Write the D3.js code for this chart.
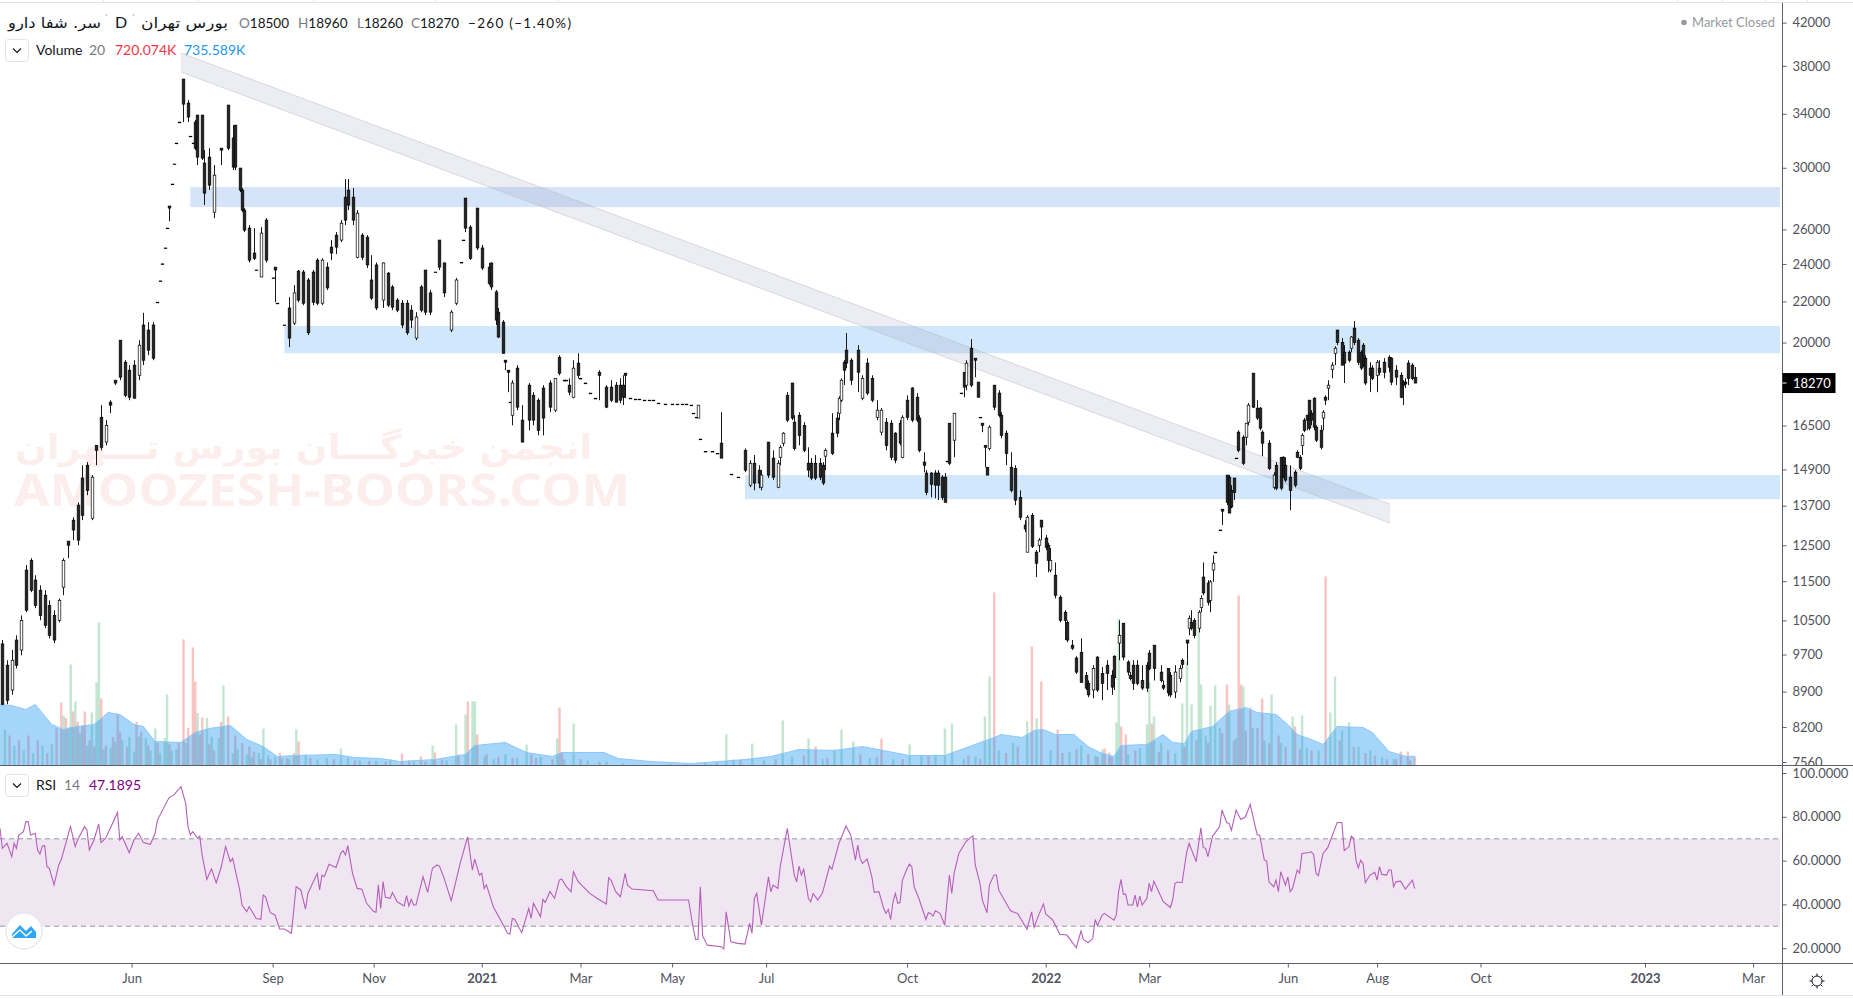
<!DOCTYPE html>
<html><head><meta charset="utf-8">
<script src="https://cdn.jsdelivr.net/npm/d3@7"></script>
<style>html,body{margin:0;padding:0;background:#fff;overflow:hidden}svg{display:block}text{font-family:Lato,"Liberation Sans",sans-serif}</style>
</head><body><svg id="c" width="1853" height="999"></svg>
<script>
const sessions=[1,3,5,7,9,11,13,15,17,19,
21,23,25,27,29,31,33,35,37,39,
41,43,45,47,49,51,53,55,57,59,
61,63,65,67,68,69,70,71,72,73,74,75,76,
78,80,81,82,83,84,86,87,89,91,
94,97,99,100,102,103,104,106,108,109,
111,113,116,117,118,121,123,125,127,129,
131,133,135,137,139,141,143,145,147,148,
150,152,154,156,158,160,163,165,167,169,
171,173,175,177,179,181,183,185,187,189,
192,194,196,197,198,200,203,205,208,209,
211,212,214,215,216,217,218,220,222,225,
227,229,231,234,236,238,240,241,242,244,
246,247,249,251,253,255,258,260,262,264,
265,266,268,270,272,274,276,278,280,283,
286,288,290,292,294,295,296,297,298,300,
303,305,307,311,314,317,319,321,323,324,
327,329,331,332,333,335,337,338,340,342,
344,345,347,349,350,351,354,356,357,358,
359,360,362,365,367,369,371,373,375,377,
379,381,383,384,386,388,390,391,393,394,
396,398,399,401,402,403,404,406,409,410,
411,413,415,416,417,418,419,420,421,423,
425,426,428,430,432,434,436,437,439,441,
442,443,445,446,447,449,451,453,454,456,
458,460,462,463,465,467,469,471,473,474,
476,478,480,481,482,484,486,488,489,491,
494,495,497,498,500,502,503,505,506,507,
508,510,511,512,514,515,516,517,519,520,
522,523,524,525,526,527,529,530,531,533,
535,536,537,540,542,543,545,546,547,549,
551,552,553,554,555,556,557,558,559,560,
562,563,564,565,567,568,569,571,572,574,
575,576,578,579,580,581,583,584,586,587,
589,591,592,594,596,597,598,599,601,602];
const highs=[10090,9630,9860,10200,10680,12000,12190,11720,11450,11320,
11060,10810,11110,12190,12680,13400,13870,15110,15220,14770,
15820,17360,16770,17560,18390,20170,19260,19040,19260,20170,
21490,21030,21030,22020,23130,24060,24960,26130,27500,28930,30300,31800,33380,
36880,35130,32310,31800,33540,33930,33930,31290,31430,30230,
31430,34720,33150,33150,30000,28660,27370,26310,26130,23720,
26190,26740,23290,23880,21970,20890,22280,22910,23720,23720,
23290,23720,24370,24370,24140,25420,25890,26620,29270,29270,
28660,27240,25830,25710,24550,24140,24140,23610,22910,22230,
22130,22130,21870,21520,22910,23720,22650,23610,25420,24140,
21620,23290,24140,25420,28010,26310,27370,25130,24110,24140,
22650,21730,21130,19260,18820,17480,18390,19040,17360,18270,
17890,17640,18180,18390,18470,19480,18390,18390,18470,19260,
19570,18470,18270,17850,17640,18820,18180,18390,18310,18470,
18600,18690,17640,17600,17600,17560,17560,17560,17440,17400,
17400,17400,17400,17400,17360,17040,16880,17360,16050,15600,
15600,15530,17080,14800,14700,15710,15290,15470,15110,14940,
15940,15640,15290,15820,16310,17890,18270,16960,17080,16690,
15750,15360,15470,15360,15220,15710,17040,17080,17720,18470,
19260,20510,19350,19940,18600,19350,18600,17560,17240,16850,
16770,16310,16770,16960,17760,18100,17850,16960,15570,14940,
14870,14940,14940,14770,14840,15250,16650,17040,17850,18730,
19260,20220,19350,18310,16880,16650,15820,15040,16570,18180,
17970,17080,16380,15570,15110,14260,13310,13460,13530,12420,
12770,13310,12860,12630,12480,12070,11190,10810,10560,10090,
9720,10130,9370,9190,9520,9720,9480,9630,9410,9740,
10560,10490,9630,9370,9630,9630,9520,9590,9860,9970,
9520,9190,9450,9370,9520,9520,9670,10090,10680,10810,
10610,10810,11190,12070,11590,11590,12270,12360,13010,13650,
14770,14770,14430,14670,15360,16380,16190,16650,17440,18690,
17560,17280,16380,16010,14870,15220,15390,15430,15390,15110,
14940,15640,15470,16270,16850,16960,17560,17160,17680,16570,
16570,17160,17760,18390,19170,19890,20650,20270,19940,19710,
20360,21080,20270,19710,20040,19480,19170,19040,19260,19260,
19350,19480,19390,19040,18730,18390,18470,19260,19130,18960];
const lows=[8680,8700,8890,9450,9740,10760,11270,10860,10560,10370,
10130,10020,10510,11190,12190,12710,12560,13310,14100,13310,
15110,15640,15820,17040,18180,18390,17680,17560,17640,18390,
19040,19480,19260,22020,23130,24060,24960,26130,26550,28930,30300,31800,33380,
33380,33380,32310,31800,31290,30230,30580,27560,28530,26740,
30230,31290,29880,29880,28400,27110,25890,24140,24270,23720,
23340,24140,23290,22020,21970,20890,19850,20890,22020,21870,
20410,21870,21870,21870,22650,24270,24610,25300,26310,27240,
26310,24370,24270,23830,22130,21620,21730,21770,21620,21520,
20740,20410,20740,20170,21520,21370,21370,23610,23720,22280,
20550,21870,24140,25420,25890,24270,24840,23720,22910,22650,
20890,20270,19570,18820,17890,17480,16570,17160,15940,16380,
16570,16190,16190,17080,17080,18600,18390,18390,17760,17640,
18470,18470,18270,17850,17640,17560,17240,17480,17480,17440,
17360,17640,17640,17600,17600,17560,17560,17560,17440,17400,
17400,17400,17400,17400,17360,17040,16880,16850,16050,15600,
15600,15530,15360,14800,14700,14870,14360,14260,14330,14260,
14670,14600,14330,15110,15780,16690,16770,15640,15820,15570,
14700,14600,14600,14600,14430,14940,15470,16120,16770,17480,
18180,18910,18180,17890,17560,17760,17480,16770,16190,15640,
15290,15180,15820,15360,16770,16690,16690,15570,14870,14100,
14030,14000,13940,13940,13870,15250,15110,15390,17850,17680,
17970,18100,18520,17680,16880,16310,15040,14770,15640,17160,
16880,16080,15110,14190,13780,13310,12950,12360,12480,11670,
12360,12710,12420,11800,11800,11110,10510,10090,10040,9860,
9330,9150,8990,8840,8820,8950,8780,8990,8890,8990,
9630,9630,9300,9190,8990,9090,8990,8950,9410,9190,
9150,8990,8860,8840,8820,9150,9450,9520,10200,10320,
10130,10270,10760,11190,10930,10760,11540,12360,13010,13160,
13780,13530,13680,13940,15360,15570,15110,15820,16570,17240,
16770,16380,15430,14940,14290,14260,14260,14670,14530,13620,
14360,15360,14940,15470,16310,16380,16380,16570,16380,15940,
15670,16380,17360,17560,18470,19040,19940,19040,18270,19170,
19620,19940,19040,18820,18950,18180,17890,18390,17890,18600,
18470,18730,18180,18180,17640,17360,18060,18180,18390,18260];
const opens=[10000,9520,8990,10090,9860,11860,12130,11590,11320,11190,
10930,10680,10560,11400,12680,13310,13780,14670,15110,13370,
15820,16880,15940,17480,18390,20170,19170,18820,19040,18600,
20890,20650,20890,22020,23130,24060,24960,26130,27500,28930,30300,31800,33380,
36870,34880,32310,31800,33380,33930,33930,30370,30790,27110,
31430,34720,32180,33150,30020,28530,27240,26130,24670,23720,
23340,26620,23290,23880,21970,20890,21730,20980,23660,23610,
23180,23610,24270,21970,23880,25010,25710,25420,28070,28530,
28070,24430,25710,25590,23180,24000,22130,23550,22810,22130,
21970,21970,21620,20270,22810,23720,22500,23610,25420,24110,
20650,21970,24140,25420,28010,26190,27370,24960,23880,24110,
22550,21520,21030,19260,18820,17480,16960,18910,16770,18180,
17760,17560,18060,18270,17160,19390,18390,18390,18180,17680,
19130,18470,18270,17850,17640,18730,18100,18100,18180,18180,
18180,18690,17640,17600,17600,17560,17560,17560,17440,17400,
17400,17400,17400,17400,17360,17040,16880,16850,16050,15600,
15600,15530,15900,14800,14700,15640,14430,15180,14940,14360,
15940,15360,14360,15390,15900,17760,18270,16690,16960,16570,
15180,15180,15180,15180,15110,15430,16270,16850,17040,17560,
19170,19710,19260,19710,17640,19130,18470,16880,16310,16690,
16650,16270,16650,15390,17560,18060,17680,16850,15220,14840,
14840,14840,14840,14700,14700,15250,16650,16010,17850,18730,
18180,19800,19350,18310,16880,16650,15820,15040,15710,18180,
17850,16960,16270,15040,15000,14030,13160,12360,13460,12360,
12560,13310,12770,12560,11860,11720,11140,10760,10510,9970,
9680,9810,9300,9130,8990,9700,9340,9520,9300,9720,
10020,10490,9590,9300,9520,9520,9190,9520,9790,9970,
9370,9090,9450,9300,8950,9230,9630,10090,10370,10510,
10560,10370,10880,11670,11510,11060,11860,12360,13010,13650,
14770,14700,14260,14670,15360,16310,16120,16120,16690,18690,
17240,17240,16310,15900,14360,15110,15390,15390,15110,14700,
14870,15570,15390,15820,16770,16960,17560,17040,17640,16500,
16380,16850,17680,18060,18860,19570,20650,20070,19620,19620,
19800,20740,20170,19620,19940,19350,18910,18910,18600,18910,
19170,19390,19350,18820,18600,18310,18310,19130,19040,18500];
const closes=[8700,8780,9630,9520,10560,10810,11320,10930,10680,10440,
10200,10090,11060,12130,12560,13010,12710,13460,14260,14700,
15640,15750,16570,17360,18270,18520,17760,17680,17640,19940,
19260,19710,19350,21990,23100,24030,24930,26100,27370,28900,30270,31770,33350,
34800,33780,32280,31770,31430,30790,30720,28330,28860,29530,
31290,31430,30090,30090,28530,27240,26010,24270,24370,23700,
25830,24270,23260,23720,21940,20860,20270,22500,22130,21970,
20520,22020,21970,24270,22760,24670,25010,26430,26620,27560,
26620,27050,24430,24000,22230,21730,24110,21870,21770,21620,
20890,20520,21130,21280,21620,21520,21520,23580,23880,22500,
21520,23180,24110,25390,26130,24370,24960,23830,23000,22810,
21130,20320,19570,19170,18730,17460,18270,17280,15940,16770,
16770,16380,16850,17280,18470,18690,18360,18360,17890,18910,
18600,18440,18240,17820,17610,18600,17280,17560,17480,17560,
17680,18600,17620,17590,17590,17550,17550,17550,17430,17390,
17390,17390,17390,17390,17350,17030,16870,17360,16040,15590,
15590,15520,15360,14790,14690,14940,15180,14500,14500,14770,
14770,14700,15180,15750,16270,16770,16850,15710,16190,15640,
14940,14670,14670,14700,14500,15640,15530,16270,17640,18390,
18820,19130,18390,18730,18470,17850,17560,17160,17160,15820,
15390,15290,15900,16880,16880,16770,16770,15640,15110,14190,
14460,14430,14430,14030,13870,15230,15180,17040,17830,18100,
19130,18180,19260,17680,16870,16570,15750,14770,16500,17280,
16960,16190,15530,14260,13940,13400,13040,13400,12530,12050,
12710,13100,12500,12130,12130,11190,10560,10560,10090,9900,
9370,9150,9030,8890,9450,8990,9130,9340,9050,9250,
10200,9700,9370,9230,9130,9130,9030,9030,9450,9450,
9190,9030,8930,8890,9370,9450,9540,10020,10610,10370,
10200,10760,11110,11250,11010,11540,12050,12340,12990,13590,
13870,13530,13720,14190,15340,15640,15180,16650,17360,17280,
16850,16460,15900,15000,14770,14330,14330,14700,14600,14260,
14430,15390,15000,16190,16380,16770,16460,16770,16500,16010,
15750,17080,17560,18180,19040,19800,20070,19040,19130,19260,
20320,20070,19170,18910,19040,18270,18600,18470,19170,18730,
18730,18950,18310,18520,17680,18180,18230,18470,18470,18270];

const upVolumeSessions=[30,32,39,41,42,66,71,95,112,126,145,184,194,198,201,202,224,237,244,309,320,333,344,355,358,363,387,402,405,419,421,437,441,469,475,476,488,489,491,503,505,507,510,511,515,517,523,529,541,550,554,566,568,574,
2,6,10,14,18,22,27,29,34,37,44,47,49,52,55,57,59,62,64,68,70,73,75,79,84,88,90,93,99,101,105,107,110,114,117,120,123,130,135,139,148,153,160,166,176,190,206,210,215,220,230,240,250,258,270,285,300,312,325,337,350,370,380,392,398,410,415,425,431,447,455,460,466,480,485,494,500,513,519,526,533,538,545,556,561,571,578,583,588,593];
const upVolumes=[8080,5120,4240,6640,11440,2960,5680,6400,2960,2880,1360,1600,3280,4080,5120,5120,1680,2160,3360,2480,1760,3600,2160,1280,2880,1920,1680,2960,3360,3920,7120,3520,3760,1280,3440,11760,3280,6640,3920,4960,8320,4880,10880,6480,4800,6400,4880,6320,5680,3920,4000,4240,7120,3440,
2880,1600,1200,1000,1600,1700,4000,3000,2600,1600,1300,1400,1900,2000,2300,1100,2300,2200,1200,1000,2200,1200,1300,1800,4200,3800,2300,2200,1000,1300,900,700,1000,800,700,600,500,900,500,600,600,400,350,500,300,400,700,500,900,600,700,500,400,300,100,120,200,500,400,700,500,600,500,800,900,500,700,1200,1800,1200,1100,1600,800,900,1400,1800,1000,2400,3000,2200,3000,2000,1800,1400,1200,2800,1500,1200,700,500];
const downVolumeSessions=[26,31,36,43,50,78,82,83,86,97,127,171,179,185,199,203,226,238,239,347,375,423,439,443,450,470,472,477,479,490,522,527,528,532,537,551,564,596,599,602,
4,8,12,16,20,24,28,33,35,38,40,45,48,51,54,58,60,63,67,72,76,80,85,89,91,94,100,103,106,108,111,115,119,122,125,132,142,151,157,164,174,181,188,195,207,212,218,228,235,247,255,265,292,305,315,330,342,352,366,373,384,395,412,417,428,433,452,458,463,467,473,483,493,497,504,509,514,520,525,530,535,540,544,547,553,558,570,576,581,585,590,594,600];
const downVolumes=[5040,4320,4320,5360,4080,10080,9440,6720,3840,3920,1920,960,720,1040,5120,2480,880,4640,1040,1520,2160,13840,9520,6720,2880,1360,1040,3120,2480,3360,6480,13600,6480,4640,5360,3120,15120,1120,1120,720,
2400,2000,2400,2000,1000,3000,3800,3500,3200,2000,1500,1600,2300,2700,1500,3500,2700,1600,1800,1700,1800,3000,2500,1700,1200,3500,2400,1800,1500,1100,500,500,1000,600,1000,600,500,400,350,300,400,300,450,900,900,700,600,600,500,500,300,150,80,250,450,500,800,600,900,700,500,800,800,500,1000,1500,1000,1300,900,700,700,1200,1100,1200,1500,2000,1800,2600,2000,2800,3000,1800,2400,1500,1300,1200,2000,1500,1000,800,500,500,400];
const volumeMaSessions=[0,5,11,15,22,27,30,40,46,51,57,61,66,77,83,89,98,105,112,118,126,143,151,162,170,185,198,202,215,224,235,239,257,263,277,294,306,317,328,340,355,367,387,402,423,426,435,440,444,449,457,463,468,474,477,488,495,499,504,507,516,523,530,535,543,548,552,558,563,569,580,584,591,598,602];
const volumeMa=[4880,4800,4480,4880,3280,2880,3040,3280,4240,4080,3280,3120,1920,1840,2640,2960,3200,2080,1520,720,800,880,640,560,320,480,880,1600,1840,1040,720,1040,1040,560,320,160,320,480,720,1280,1200,1520,800,800,2240,2480,2240,2800,2880,2480,2480,1520,1040,720,1600,1680,2480,1840,1760,2720,3120,4320,4640,4240,4080,3280,2480,2080,1680,3120,3040,2640,1120,740,736];

const rsiSessions=[0,1,3,5,6,7,8,10,11,12,13,15,16,17,18,19,20,21,23,25,26,28,30,32,33,36,37,38,40,42,43,45,50,51,52,55,57,59,61,64,66,67,72,74,77,79,80,81,82,84,85,86,88,90,92,94,96,98,99,102,103,105,106,109,111,112,113,115,117,119,121,124,126,128,130,131,135,136,137,138,140,143,145,146,147,148,150,152,154,156,159,160,161,162,163,164,166,167,169,172,173,174,175,176,177,180,182,184,186,187,189,192,196,199,201,202,204,205,206,207,210,213,216,217,218,219,222,225,226,227,230,231,232,234,236,238,239,241,243,244,246,251,254,258,259,260,262,
264,266,267,269,278,280,293,295,296,297,298,299,301,307,308,309,311,314,317,319,320,321,322,324,327,328,329,331,332,335,338,339,340,341,342,344,345,346,348,350,353,354,357,360,362,364,365,366,367,369,371,372,374,376,377,378,379,380,381,382,383,384,386,387,388,389,391,394,395,396,397,398,400,402,403,404,405,406,408,411,413,414,415,417,418,420,421,423,424,425,430,432,433,437,439,440,442,444,445,448,451,454,458,460,461,463,465,466,467,469,470,474,475,476,477,478,479,480,482,483,484,485,486,488,489,490,491,495,498,499,500,501,503,505,506,509,511,512,513,514,516,519,520,522,523,524,526,528,530,532,534,535,536,538,539,540,542,543,544,545,547,548,549,550,552,553,554,557,558,559,560,561,563,565,569,571,572,574,575,576,577,578,579,580,581,583,585,586,587,588,590,591,592,593,594,596,598,601,602];
const rsiValues=[74.7,65.6,67.9,61.8,67.9,65.6,71.7,73.2,77.8,77.8,71.7,72.5,64.8,63,66.7,66.8,57.2,56.5,48.9,58,60.3,67.9,75.5,66.4,69.4,75.5,74,64.8,69.4,76.7,68.2,70.2,82,69.4,70.9,63.6,69.4,72.5,68.2,67.4,72.5,78.5,88.9,90,93.8,86.2,75.5,71.7,73.2,70.2,71.2,62.6,51.4,56.2,49.9,56.5,66.4,59.5,61,46.6,39.7,36.7,39,33.6,33.2,44.3,43.5,36.2,35.2,28.8,28.8,26.8,48.1,46.6,37.8,45,54.2,46.6,53.4,52.7,58.3,56.9,63.3,64.5,62.6,66.8,54.2,47.3,46.9,40.5,36.7,36.4,48.9,38.2,50.4,43.2,42.8,45.4,41.2,39.3,44,39.3,42.3,39.7,39.7,52.7,45.5,56.5,58,57.5,51.9,41.7,59.5,70.9,55.7,60.7,53.4,54.2,47.3,48.9,38.7,32.9,26.8,26.5,33.6,33.2,27.1,38.2,33.6,40.5,34.4,42.3,40.9,45.8,42.8,51.1,51.6,48.1,45.8,54.9,50.4,45,42.8,40.2,52.2,51.1,45.8,
43.5,54.2,48.8,47,46.2,42,42,29,24,24,48,25.5,21.4,20.7,19.6,36.6,22.9,22.2,21.9,31.3,26.8,42.7,45,30.6,52.6,45.8,48.8,47.3,57.2,74.7,53.4,50.3,57.5,53.4,56,42.7,41.2,45,42,45.3,57.5,56,67.9,75.8,71.7,60.2,67.1,61,58.7,60.7,52.6,45.5,45.8,38.2,35.9,37.7,33.1,41.2,45,40.5,40.8,51.1,56.4,58.4,57.2,48,42.7,33.1,36.2,35.9,34.7,37.1,35.9,30.6,42,53.4,45,54.2,63.3,68.6,70.6,71.3,58,49.6,42,36.2,48.8,53.4,53.4,46.5,37.1,36.2,35.9,28.6,36.6,29.5,35.1,40.2,35.6,32.8,26.4,26,20.2,27.8,24,22.5,24.5,33.1,30.3,35.1,35.9,32.8,35.1,45.8,51.4,44.7,44.7,39.7,39.7,44.3,38.9,43.8,39.7,42.7,49.6,45.8,50.6,41.2,38.6,42,49.6,50.2,49.9,64,67.9,59.5,75,66,65.6,61.8,71.2,75.5,83.1,77.3,77,73.9,83.1,78.8,80,85.7,76.2,71.7,71.7,60.2,59.9,50.3,48,51.1,45.8,54.9,48.8,52.6,45.8,47.3,55.7,54.2,63.3,63.7,64,62.8,54.2,53.1,63.3,65.9,77.4,77.4,64.5,66.3,71.2,70.1,60.2,56.7,60.2,58.7,49.9,53.4,54.6,51.1,57.2,53.7,53.4,55.7,55.7,48,50.3,50.6,47,51.1,47.19];

const priceTicks=[42000,38000,34000,30000,26000,24000,22000,20000,18000,16500,14900,13700,12500,11500,10500,9700,8900,8200,7560];
const rsiTicks=[100,80,60,40,20];
const timeTickSessions=[56,116,159,205,247,286,326,386,445,489,548,586,630,700,746];
const timeTickLabels=["Jun","Sep","Nov","2021","Mar","May","Jul","Oct","2022","Mar","Jun","Aug","Oct","2023","Mar"];
const zoneSessionStart=[81,121,317];
const zoneHigh=[28730,20840,14770];
const zoneLow=[27430,19570,13970];
const channelSessions=[77,591.5];
const channelUpper=[39160,13810];
const channelLower=[37480,13220];
const lastClose=18270;

const svg=d3.select("#c");
const W=1853,AX=1782.5,PANE=765.5,RB=963.5,RIGHT=1780;
const x=d3.scaleLinear().domain([0,758.5]).range([0,AX]);
const y=d3.scaleLog().domain([42000,7560]).range([22.7,765]);
const yAxisScale=d3.scaleLog().domain([42000,7560]).range([22.7,762]);
const yV=d3.scaleLinear().domain([0,16000]).range([PANE,565.5]);
const yR=d3.scaleLinear().domain([100,20]).range([773,948.2]);
const ink="#131722",grey="#50535e",frame="#e0e3eb",axisC="#5d606b";

const defs=svg.append("defs");
defs.append("clipPath").attr("id","pa").append("rect").attr("x",AX).attr("y",0).attr("width",80).attr("height",PANE);

// watermark
const wm=svg.append("g").attr("fill","#fdeeee");
wm.append("text").attr("x",15).attr("y",459).attr("textLength",577).attr("lengthAdjust","spacingAndGlyphs")
 .style("font-family","'DejaVu Sans'").style("font-weight","700").style("font-size","34px")
 .text("انجمن خبرگـــان بورس تـــهران");
wm.append("text").attr("x",14).attr("y",506).attr("textLength",616).attr("lengthAdjust","spacingAndGlyphs")
 .style("font-family","'Noto Sans'").style("font-weight","700").style("font-size","45px").text("AMOOZESH-BOORS.COM");

// zones
svg.append("g").selectAll("rect").data(zoneHigh).join("rect")
 .attr("x",(d,i)=>x(zoneSessionStart[i])).attr("width",(d,i)=>RIGHT-x(zoneSessionStart[i]))
 .attr("y",d=>y(d)).attr("height",(d,i)=>y(zoneLow[i])-y(d))
 .attr("fill",(d,i)=>i==0?"#d5e4f9":"#d1e7fb");

// channel
const chanData=channelSessions.map((s,i)=>({s,u:channelUpper[i],l:channelLower[i]}));
svg.append("path").datum(chanData).attr("d",d3.area().x(d=>x(d.s)).y0(d=>y(d.l)).y1(d=>y(d.u)))
 .attr("fill","#7b82a0").attr("fill-opacity",0.14);
["u","l"].forEach(k=>svg.append("path").datum(chanData).attr("d",d3.line().x(d=>x(d.s)).y(d=>y(d[k])))
 .attr("fill","none").attr("stroke","#b2b5be").attr("stroke-opacity",0.45));

// volume
const volG=svg.append("g");
volG.selectAll(".u").data(upVolumes).join("rect").attr("class","u")
 .attr("x",(d,i)=>x(upVolumeSessions[i])-1).attr("width",2.4).attr("y",d=>yV(d)).attr("height",d=>PANE-yV(d)).attr("fill","#26a65b").attr("fill-opacity",.28);
volG.selectAll(".d").data(downVolumes).join("rect").attr("class","d")
 .attr("x",(d,i)=>x(downVolumeSessions[i])-1).attr("width",2.4).attr("y",d=>yV(d)).attr("height",d=>PANE-yV(d)).attr("fill","#ef5350").attr("fill-opacity",.35);
const ma=volumeMa.map((v,i)=>[volumeMaSessions[i],v]);
svg.append("path").datum(ma).attr("d",d3.area().x(d=>x(d[0])).y0(PANE).y1(d=>yV(d[1]))).attr("fill","#2196f3").attr("fill-opacity",.4);
svg.append("path").datum(ma).attr("d",d3.line().x(d=>x(d[0])).y(d=>yV(d[1]))).attr("fill","none").attr("stroke","#8cc8f7").attr("stroke-width",1);

// candles
const cg=svg.append("g");
const barCount=Math.min(sessions.length,opens.length,highs.length,lows.length,closes.length);
const idx=d3.range(barCount);
cg.selectAll("line").data(idx).join("line")
 .attr("x1",i=>Math.round(x(sessions[i]))+.5).attr("x2",i=>Math.round(x(sessions[i]))+.5)
 .attr("y1",i=>y(highs[i])).attr("y2",i=>y(lows[i])).attr("stroke","#000").attr("stroke-width",.9);
cg.selectAll("rect").data(idx).join("rect")
 .attr("x",i=>Math.round(x(sessions[i]))-.8)
 .attr("width",2.6)
 .attr("y",i=>y(Math.max(opens[i],closes[i])))
 .attr("height",i=>Math.max(.6,Math.abs(y(opens[i])-y(closes[i]))))
 .attr("fill",i=>closes[i]>opens[i]?"#fff":"#262626")
 .attr("stroke","#000").attr("stroke-width",.7);

// rsi
const band=svg.append("g");
band.append("rect").attr("x",0).attr("width",RIGHT).attr("y",yR(70)).attr("height",yR(30)-yR(70)).attr("fill","#f0e6f2");
[70,30].forEach(v=>band.append("line").attr("x1",0).attr("x2",RIGHT).attr("y1",yR(v)).attr("y2",yR(v))
 .attr("stroke","#b8b3bc").attr("stroke-width",1.4).attr("stroke-dasharray","5 4"));
svg.append("path").datum(rsiValues.map((v,i)=>[rsiSessions[i],v])).attr("d",d3.line().x(d=>x(d[0])).y(d=>yR(d[1])))
 .attr("fill","none").attr("stroke","#b45fb9").attr("stroke-width",1.1);

// frame lines
const topSeparators=[103,198,313,435,558,1677,1722,1765,1807];
svg.append("line").attr("x1",0).attr("x2",W).attr("y1",2.5).attr("y2",2.5).attr("stroke",frame).attr("stroke-width",1);
svg.selectAll(".tt").data(topSeparators).join("line").attr("class","tt").attr("x1",d=>d+.5).attr("x2",d=>d+.5).attr("y1",0).attr("y2",2).attr("stroke",frame);
svg.append("line").attr("x1",0).attr("x2",W).attr("y1",995.5).attr("y2",995.5).attr("stroke",frame).attr("stroke-width",1);
const ln=(a,b,c,d)=>svg.append("line").attr("x1",a).attr("x2",b).attr("y1",c).attr("y2",d).attr("stroke",axisC).attr("stroke-width",1);
ln(0,W,PANE,PANE); ln(0,W,RB,RB); ln(AX,AX,3,995);

// axes
const style=(g,size)=>{g.select(".domain").remove();g.selectAll("line").attr("stroke",axisC);
 g.selectAll("text").attr("fill",grey).style("font-family","Lato,'Liberation Sans',sans-serif").style("font-size",size+"px");};
const pa=svg.append("g").attr("clip-path","url(#pa)").append("g").attr("transform",`translate(${AX},0)`)
 .call(d3.axisRight(yAxisScale).tickValues(priceTicks).tickFormat(d=>d).tickSize(4).tickPadding(6));
style(pa,13);
const ra=svg.append("g").attr("transform",`translate(${AX},0)`)
 .call(d3.axisRight(yR).tickValues(rsiTicks).tickFormat(d3.format(".4f")).tickSize(4).tickPadding(6));
style(ra,13);
const lab=new Map(timeTickSessions.map((s,i)=>[s,timeTickLabels[i]]));
const ta=svg.append("g").attr("transform",`translate(0,${RB})`)
 .call(d3.axisBottom(x).tickValues(timeTickSessions).tickFormat(d=>lab.get(d)).tickSize(4).tickPadding(6));
style(ta,13);
ta.selectAll("text").style("font-weight",d=>/^\d/.test(lab.get(d))?"700":"400");

// last price tag
const yl=y(lastClose);
svg.append("rect").attr("x",AX).attr("y",yl-10).attr("width",53).attr("height",20).attr("fill","#000");
svg.append("line").attr("x1",AX).attr("x2",AX+4).attr("y1",yl).attr("y2",yl).attr("stroke","#fff");
svg.append("text").attr("x",AX+10.5).attr("y",yl+4.5).attr("fill","#fff").style("font-size","13px").text(lastClose);

// header
const tx=(x0,y0,s,fill,size,fam)=>{const e=svg.append("text").attr("x",x0).attr("y",y0).attr("fill",fill).style("font-size",size+"px").text(s);if(fam)e.style("font-family",fam);return e;};
tx(8,28,"سر. شفا دارو",ink,15,"'DejaVu Sans'").attr("textLength",93).attr("lengthAdjust","spacingAndGlyphs");
tx(105,19,"·","#c5c8cf",11);
tx(115,28,"D",ink,16);
tx(132,19,"·","#c5c8cf",11);
tx(141,28,"بورس تهران",ink,15,"'DejaVu Sans'").attr("textLength",87).attr("lengthAdjust","spacingAndGlyphs");
[[239,"O","18500"],[298,"H","18960"],[357,"L","18260"],[411,"C","18270"]].forEach(([a,l,v])=>{
 const e=tx(a,27.5,l,"#787b86",13.5);e.append("tspan").attr("fill",ink).text(v);});
tx(468,27.5,"−260 (−1.40%)",ink,13.5).attr("textLength",103);
const btn=(y0)=>{svg.append("rect").attr("x",5.5).attr("y",y0).attr("width",23).attr("height",22).attr("rx",3).attr("fill","#fff").attr("stroke",frame);
 svg.append("path").attr("d",`M13 ${y0+9}l4 4l4 -4`).attr("fill","none").attr("stroke",ink).attr("stroke-width",1.2);};
btn(39.5); btn(774.5);
tx(36,54.5,"Volume",ink,14); tx(89,54.5,"20","#787b86",14);
tx(115,54.5,"720.074K","#f23645",14); tx(184,54.5,"735.589K","#2196f3",14);
tx(36,789.5,"RSI",ink,14); tx(64,789.5,"14","#787b86",14); tx(89,789.5,"47.1895","#800080",14);
svg.append("circle").attr("cx",1684).attr("cy",22.5).attr("r",2.8).attr("fill","#9598a1");
tx(1692,27,"Market Closed","#9598a1",13);

// logo
svg.append("circle").attr("cx",24).attr("cy",931).attr("r",18).attr("fill","#fff").attr("stroke","#e8eaf0").attr("stroke-width",1.5);
svg.append("path").attr("d","M12 938 L12 934 L20 925 L26 931 L31 926 L36 932 L36 938 Z").attr("fill","#2ea5f5");
svg.append("path").attr("d","M11 938 L20 930 L26 936 L32 931").attr("fill","none").attr("stroke","#fff").attr("stroke-width",1.6);

// settings icon
svg.append("circle").attr("cx",1817).attr("cy",981).attr("r",5).attr("fill","none").attr("stroke",ink).attr("stroke-width",1);
d3.range(8).forEach(k=>{const a=k*Math.PI/4;svg.append("line").attr("x1",1817+5*Math.cos(a)).attr("y1",981+5*Math.sin(a)).attr("x2",1817+7.5*Math.cos(a)).attr("y2",981+7.5*Math.sin(a)).attr("stroke",ink);});
</script></body></html>
